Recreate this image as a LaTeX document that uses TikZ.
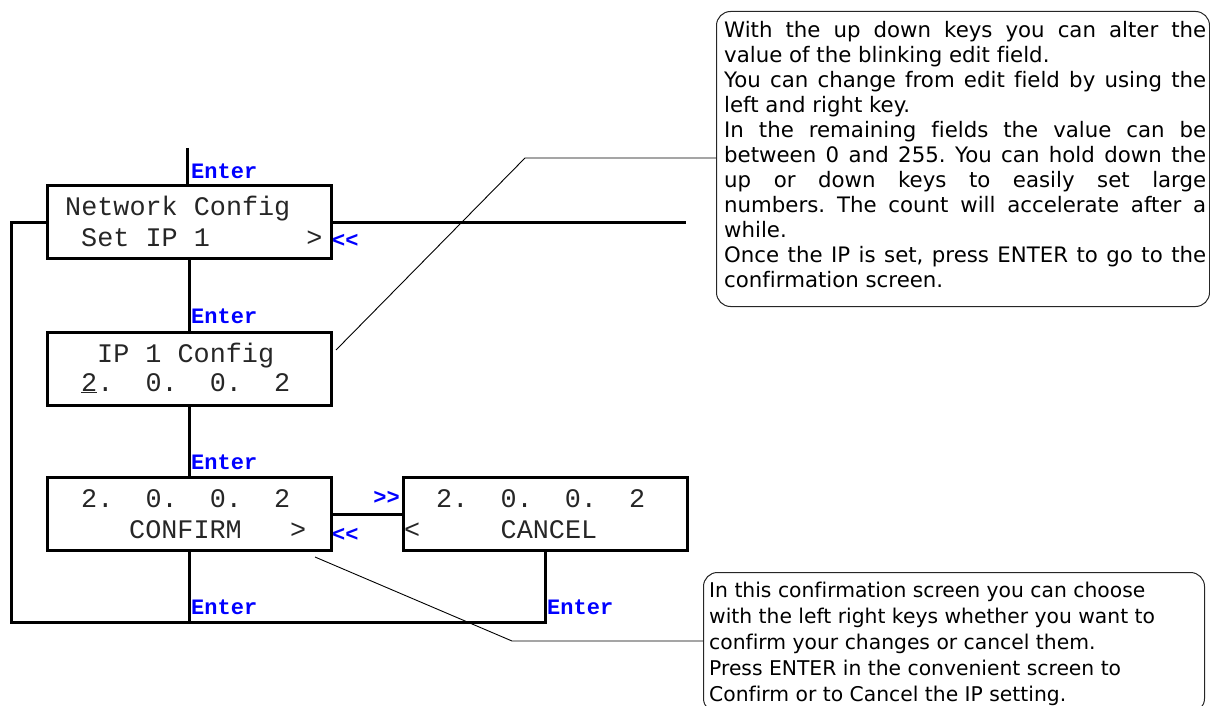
\documentclass[tikz,border=0pt]{standalone}
\usepackage{fontspec}
\setmainfont{DejaVu Sans}
\newfontfamily\lcdfont{Liberation Mono}
\newfontfamily\notefont[Ligatures={NoCommon}]{DejaVu Sans}
\definecolor{keyblue}{RGB}{0,0,255}
\newcommand\plainspaces{\spaceskip=0pt\xspaceskip=0pt\relax}
\newcommand\jline[1]{\makebox[482pt][s]{#1}}
\begin{document}
\begin{tikzpicture}[x=1pt,y=-1pt,
  lcd/.style={draw, line width=3pt, rectangle, minimum width=284pt, minimum height=73pt, inner sep=0pt, anchor=north west},
  lcdtext/.style={font=\lcdfont\fontsize{26.8}{30}\selectfont, inner sep=0pt, anchor=base west, text=black!85},
  conn/.style={line width=3pt, line join=miter},
  key/.style={font=\lcdfont\bfseries\fontsize{22}{24}\selectfont, text=keyblue, inner sep=0pt, anchor=west},
  callout/.style={draw=black!85, line width=1pt, rounded corners=14pt, inner sep=0pt, anchor=north west},
  notetext/.style={inner sep=0pt, anchor=north west, align=left},
  pointer/.style={line width=0.9pt}]
\useasboundingbox (0,0) rectangle (1210,706);

% screens
\node[lcd] (b1) at (46,184) {};
\node[lcd] (b2) at (46,331) {};
\node[lcd] (b3) at (46,476) {};
\node[lcd] (b4) at (402,476) {};

% screen texts
\node[lcdtext] (b1l1) at (65,215) {Network Config};
\node[lcdtext] (b1l2) at (81,246) {Set IP 1\ \ \ \ \ \ >};
\node[lcdtext] (b2l1) at (97,362) {IP 1 Config};
\node[lcdtext] (b2l2) at (81,391) {\underline{2}.\ \ 0.\ \ 0.\ \ 2};
\node[lcdtext] (b3l1) at (81,507) {2.\ \ 0.\ \ 0.\ \ 2};
\node[lcdtext] (b3l2) at (129,538) {CONFIRM\ \ \ >};
\node[lcdtext] (b4l1) at (436,507) {2.\ \ 0.\ \ 0.\ \ 2};
\node[lcdtext] (b4l2) at (404,538) {<\ \ \ \ \ CANCEL};

% connectors
\coordinate (top) at (187,148);
\coordinate (rightend) at (686,220);
\coordinate (loop) at (11,622);
\draw[conn] (top) -- (top |- b1.north);
\draw[conn] (b1.south) -- (b2.north);
\draw[conn] (b2.south) -- (b3.north);
\draw[conn] (b1.east) -- (b1.east -| rightend);
\draw[conn] (b1.west) -| (loop) -| (b4.south);
\draw[conn] (b3.south) -- (b3.south |- loop);
\draw[conn] (b3.east) -- (b4.west);

% key labels
\node[key] (k1) at (191,171) {Enter};
\node[key] (k2) at (191,316) {Enter};
\node[key] (k3) at (191,462) {Enter};
\node[key] (k4) at (191,607) {Enter};
\node[key] (k5) at (547,607) {Enter};
\node[key] (k6) at (332,241) {<<};
\node[key, anchor=east] (k7) at (400,497.5) {>>};
\node[key] (k8) at (332,535) {<<};

% callout 1
\node[callout, minimum width=493pt, minimum height=295pt] (c1) at (716,11) {};
\node[notetext, text width=482pt, font=\notefont\frenchspacing\fontsize{21.3}{25}\selectfont] (t1) at (724,21.5) {\plainspaces
\jline{With the up down keys you can alter the}\\
value of the blinking edit field.\\
\jline{You can change from edit field by using the}\\
left and right key.\\
\jline{In the remaining fields the value can be}\\
\jline{between 0 and 255. You can hold down the}\\
\jline{up or down keys to easily set large}\\
\jline{numbers. The count will accelerate after a}\\
while.\\
\jline{Once the IP is set, press ENTER to go to the}\\
confirmation screen.};
\coordinate (p1s) at (336,350);
\coordinate (p1k) at (525,158);
\draw[pointer] (p1s) -- (p1k) -- (p1k -| c1.west);

% callout 2
\node[callout, minimum width=501pt, minimum height=140pt] (c2) at (703,572) {};
\node[notetext, text width=490pt, font=\notefont\frenchspacing\fontsize{20.3}{26}\selectfont] (t2) at (709,582) {\plainspaces
In this confirmation screen you can choose\\
with the left right keys whether you want to\\
confirm your changes or cancel them.\\
Press ENTER in the convenient screen to\\
Confirm or to Cancel the IP setting.};
\coordinate (p2s) at (315,557);
\coordinate (p2k) at (512,641);
\draw[pointer] (p2s) -- (p2k) -- (p2k -| c2.west);
\end{tikzpicture}
\end{document}
